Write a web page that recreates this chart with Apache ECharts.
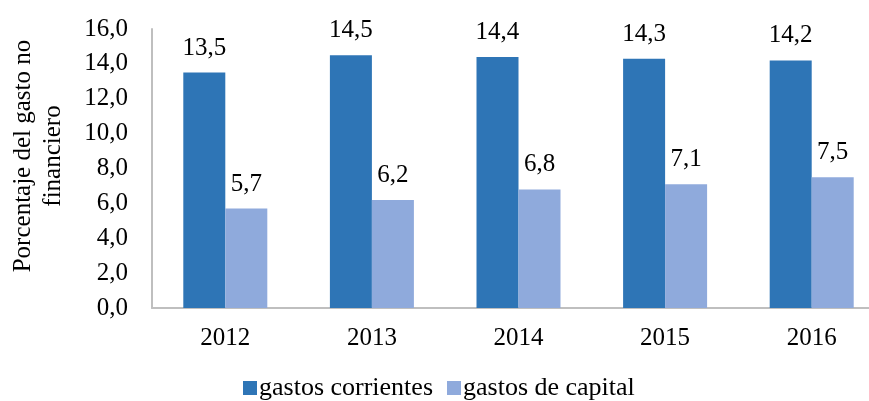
<!DOCTYPE html>
<html lang="es">
<head>
	<meta charset="utf-8">
	<title>Gasto no financiero</title>
	<script src="https://cdn.jsdelivr.net/npm/echarts@6/dist/echarts.min.js"></script>
	<style>
		html, body { margin: 0; padding: 0; background: #fff; }
		#chart { width: 869px; height: 401px; }
	</style>
</head>
<body>
<div id="chart"></div>
<script>
var years = ['2012', '2013', '2014', '2015', '2016'];
var corrientes = [13.5, 14.5, 14.4, 14.3, 14.2];
var capital = [5.7, 6.2, 6.8, 7.1, 7.5];
var yTicks = { min: 0, max: 16, interval: 2 };

var fmt = function (v) { return v.toFixed(1).replace('.', ','); };
var font = 'Liberation Serif';
var fs = 25;

echarts.init(document.getElementById('chart')).setOption({
	textStyle: { fontFamily: font },
	animation: false,
	grid: { left: 152, width: 733, top: 29, height: 279, outerBoundsMode: 'none' },
	legend: {
		left: 238,
		top: 370,
		itemWidth: 14,
		itemHeight: 14,
		itemGap: 14,
		icon: 'rect',
		textStyle: { fontFamily: font, fontSize: 26, color: '#000', padding: [0, 0, 0, -3] },
		data: ['gastos corrientes', 'gastos de capital']
	},
	graphic: [{
		type: 'text',
		x: 38,
		y: 156,
		rotation: Math.PI / 2,
		style: {
			text: 'Porcentaje del gasto no\nfinanciero',
			font: fs + 'px "Liberation Serif"',
			fill: '#000',
			align: 'center',
			verticalAlign: 'middle',
			lineHeight: 30
		}
	}],
	xAxis: {
		type: 'category',
		data: years,
		axisLine: { lineStyle: { color: '#BFBFBF', width: 2 } },
		axisTick: { show: false },
		axisLabel: { color: '#000', fontSize: fs, margin: 18 }
	},
	yAxis: {
		type: 'value',
		min: yTicks.min,
		max: yTicks.max,
		interval: yTicks.interval,
		splitLine: { show: false },
		axisLine: { show: true, lineStyle: { color: '#BFBFBF', width: 2 } },
		axisTick: { show: false },
		axisLabel: { color: '#000', fontSize: fs, margin: 24, formatter: fmt }
	},
	series: [
	{
		name: 'gastos corrientes',
		type: 'bar',
		data: corrientes,
		barGap: '0%',
		barCategoryGap: '42.7%',
		itemStyle: { color: '#2E75B6' },
		label: { show: true, position: 'top', distance: 12, color: '#000', fontSize: fs, formatter: function (p) { return fmt(p.value); } }
	},
	{
		name: 'gastos de capital',
		type: 'bar',
		data: capital,
		itemStyle: { color: '#8FAADC' },
		label: { show: true, position: 'top', distance: 12, color: '#000', fontSize: fs, formatter: function (p) { return fmt(p.value); } }
	}]
});
</script>
</body>
</html>
